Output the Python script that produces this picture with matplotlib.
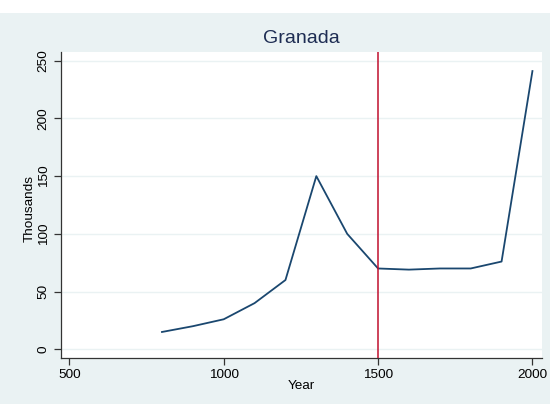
import matplotlib
matplotlib.use("Agg")
import matplotlib.pyplot as plt
from matplotlib.patches import Rectangle

years = [800, 900, 1000, 1100, 1200, 1300, 1400, 1500, 1600, 1700, 1800, 1900, 2000]
thousands = [15, 20, 26, 40, 60, 150, 100, 70, 69, 70, 70, 76, 241]
xticks = [500, 1000, 1500, 2000]
yticks = [0, 50, 100, 150, 200, 250]
vline_year = 1500
title = "Granada"

plt.rcParams['font.family'] = ['Liberation Sans', 'DejaVu Sans']
W, H = 550, 404
fig = plt.figure(figsize=(W / 100, H / 100), dpi=100, facecolor='white')
bg = '#eaf2f3'
fig.patches.append(Rectangle((0, 0), 1, 1 - 13 / H, transform=fig.transFigure,
                             facecolor=bg, edgecolor='none', zorder=-10))

ax = fig.add_axes([60.7 / W, (H - 358.3) / H, (541.7 - 60.7) / W, (358.3 - 52) / H])
ax.set_facecolor('white')
ax.plot(years, thousands, color='#1a476f', lw=1.3, zorder=3)
ax.axvline(vline_year, color='#c0102e', lw=1.1, zorder=4)

ax.set_xlim(472, 2030)
ax.set_ylim(-7.8, 257.5)
ax.set_xticks(xticks)
ax.set_yticks(yticks)
ax.set_yticklabels([str(v) for v in yticks], rotation=90, va='center')
ax.grid(axis='y', color=bg, lw=1.0, zorder=0)
for s in ['top', 'right']:
    ax.spines[s].set_visible(False)
for s in ['left', 'bottom']:
    ax.spines[s].set_color('#333333')
    ax.spines[s].set_linewidth(0.9)
ax.tick_params(direction='out', length=5, width=0.9, color='#333333',
               labelsize=9.7, labelcolor='black', pad=3)
ax.set_xlabel('Year', fontsize=9.7)
ax.set_ylabel('Thousands', fontsize=9.7)
ax.xaxis.set_label_coords(0.5, -0.071)
ax.yaxis.set_label_coords(-0.051, 0.49)
fig.text(301.7 / W, 1 - 38.3 / H, title, ha='center', va='center', fontsize=14, color='#1e2d53')

fig.savefig('out.png', dpi=100, facecolor='white')
